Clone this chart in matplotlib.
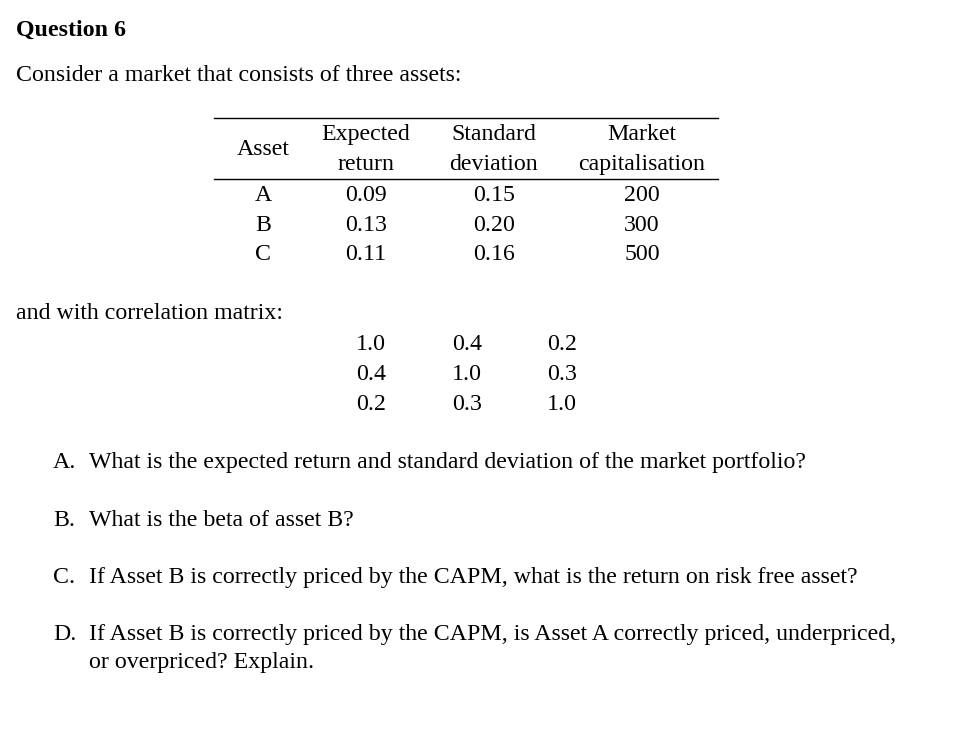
import matplotlib.pyplot as plt

plt.rcParams['font.family'] = ['Liberation Serif', 'DejaVu Serif']

title = "Question 6"
intro = "Consider a market that consists of three assets:"
headers = [["Asset"], ["Expected", "return"], ["Standard", "deviation"], ["Market", "capitalisation"]]
assets = ["A", "B", "C"]
exp_return = ["0.09", "0.13", "0.11"]
std_dev = ["0.15", "0.20", "0.16"]
market_cap = ["200", "300", "500"]
corr_label = "and with correlation matrix:"
corr = [["1.0", "0.4", "0.2"],
        ["0.4", "1.0", "0.3"],
        ["0.2", "0.3", "1.0"]]
q_letters = ["A.", "B.", "C.", "D."]
q_texts = [
    ["What is the expected return and standard deviation of the market portfolio?"],
    ["What is the beta of asset B?"],
    ["If Asset B is correctly priced by the CAPM, what is the return on risk free asset?"],
    ["If Asset B is correctly priced by the CAPM, is Asset A correctly priced, underpriced,",
     "or overpriced? Explain."],
]

fig = plt.figure(figsize=(9.76, 7.29), dpi=100)
ax = fig.add_axes([0, 0, 1, 1])
ax.set_xlim(0, 976)
ax.set_ylim(729, 0)
ax.axis('off')

fs = 17.2

ax.text(16, 35.5, title, fontsize=fs, fontweight='bold', va='baseline', ha='left')
ax.text(16, 81, intro, fontsize=fs, va='baseline', ha='left')

# table
col_x = [263, 366, 494, 642]
ax.plot([214, 718], [117.5, 117.5], color='black', lw=1)
ax.plot([214, 718], [178.5, 178.5], color='black', lw=1)
for x, h in zip(col_x, headers):
    if len(h) == 1:
        ax.text(x, 155, h[0], fontsize=fs, va='baseline', ha='center')
    else:
        ax.text(x, 140, h[0], fontsize=fs, va='baseline', ha='center')
        ax.text(x, 170, h[1], fontsize=fs, va='baseline', ha='center')
for i, row in enumerate(zip(assets, exp_return, std_dev, market_cap)):
    y = 201 + 29.5 * i
    for x, v in zip(col_x, row):
        ax.text(x, y, v, fontsize=fs, va='baseline', ha='center')

ax.text(16, 319, corr_label, fontsize=fs, va='baseline', ha='left')
corr_x = [371, 467, 562]
for i, row in enumerate(corr):
    y = 350 + 30 * i
    for x, v in zip(corr_x, row):
        ax.text(x, y, v, fontsize=fs, va='baseline', ha='center')

# questions
q_y = [468, 526, 583, 640]
for letter, lines, y in zip(q_letters, q_texts, q_y):
    ax.text(53, y, letter, fontsize=fs, va='baseline', ha='left')
    for k, line in enumerate(lines):
        ax.text(89, y + 28 * k, line, fontsize=fs, va='baseline', ha='left')

fig.savefig('out.png', dpi=100, facecolor='white')
